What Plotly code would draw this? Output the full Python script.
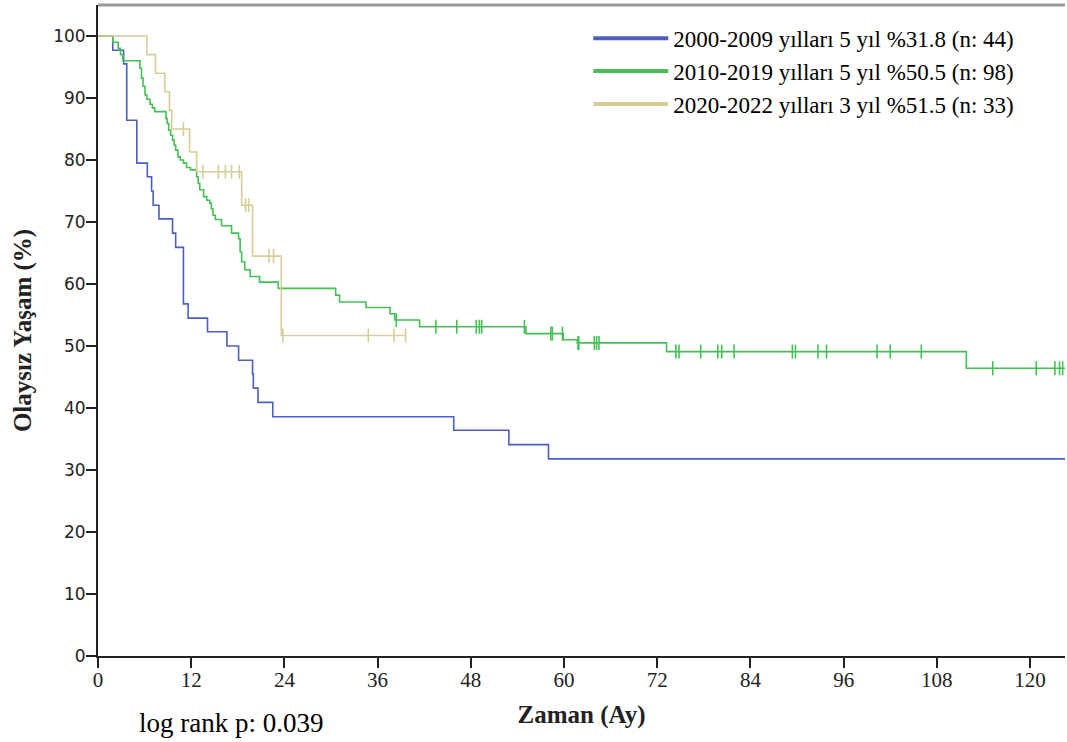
import plotly.graph_objects as go

# ---- Data (months, survival %) ----
blue_name = "2000-2009 yılları 5 yıl %31.8 (n: 44)"
blue_t = [1.9, 3.3, 3.7, 5.0, 6.35, 6.9, 7.1, 7.85, 9.6, 10.0, 11.0, 11.6, 14.1, 16.6,
          18.1, 19.9, 20.0, 20.6, 22.5, 45.8, 52.9, 58.0]
blue_s = [97.7, 95.5, 86.4, 79.5, 77.3, 75.0, 72.7, 70.5, 68.2, 65.9, 56.8, 54.5, 52.3, 50.0,
          47.7, 45.5, 43.2, 40.9, 38.6, 36.4, 34.1, 31.8]
blue_end = 124.5
blue_cens_t = []
blue_cens_s = []

green_name = "2010-2019 yılları 5 yıl %50.5 (n: 98)"
green_t = [1.9, 2.6, 2.9, 3.2, 5.4, 5.6, 5.8, 6.05, 6.3, 6.7, 7.0, 7.3,
           8.75, 8.9, 9.1, 9.35, 9.6, 9.8, 10.0, 10.3, 10.6, 11.0, 11.4, 11.9,
           12.7, 12.9, 13.1, 13.6, 14.0, 14.4, 14.6, 14.8, 15.1, 15.9, 17.2, 18.1,
           18.3, 18.5, 18.9, 19.6, 20.8, 23.2, 30.6, 31.1, 34.5, 37.6, 38.2, 41.4,
           55.1, 59.9, 61.7, 73.2, 111.8]
green_s = [99.0, 98.0, 97.0, 96.0, 94.8, 93.2, 91.9, 90.5, 89.8, 89.0, 88.4, 87.8,
           86.7, 85.9, 84.8, 84.0, 83.2, 82.4, 81.6, 80.5, 80.0, 79.5, 78.8, 78.4,
           77.3, 76.2, 75.2, 74.1, 73.5, 73.0, 72.1, 71.1, 70.4, 69.4, 68.2, 67.3,
           65.2, 63.6, 62.3, 61.2, 60.3, 59.3, 58.2, 57.1, 56.2, 55.2, 54.2, 53.1,
           52.0, 51.0, 50.5, 49.1, 46.4]
green_end = 124.5
green_cens_t = [38.4, 43.5, 46.2, 48.7, 49.1, 49.4, 54.9, 58.3, 58.5, 59.8, 61.8, 61.9,
                63.9, 64.2, 64.5, 74.4, 74.8, 77.6, 79.8, 80.3, 81.9, 89.4, 89.8, 92.7,
                93.8, 100.3, 102.0, 106.0, 115.2, 120.8, 123.2, 123.8, 124.2]
green_cens_s = [54.2, 53.1, 53.1, 53.1, 53.1, 53.1, 53.1, 52.0, 52.0, 52.0, 50.5, 50.5,
                50.5, 50.5, 50.5, 49.1, 49.1, 49.1, 49.1, 49.1, 49.1, 49.1, 49.1, 49.1,
                49.1, 49.1, 49.1, 49.1, 46.4, 46.4, 46.4, 46.4, 46.4]

yellow_name = "2020-2022 yılları 3 yıl %51.5 (n: 33)"
yellow_t = [6.3, 7.4, 8.6, 9.2, 9.5, 11.8, 12.7, 18.5, 19.9, 23.6]
yellow_s = [97.0, 94.0, 91.0, 88.0, 85.0, 81.3, 78.1, 72.7, 64.5, 51.7]
yellow_end = 39.6
yellow_cens_t = [11.0, 13.5, 15.5, 16.4, 17.2, 18.2, 19.0, 19.4, 22.0, 22.6, 23.8, 34.8, 38.1, 39.6]
yellow_cens_s = [85.0, 78.1, 78.1, 78.1, 78.1, 78.1, 72.7, 72.7, 64.5, 64.5, 51.7, 51.7, 51.7, 51.7]

x_ticks = [0, 12, 24, 36, 48, 60, 72, 84, 96, 108, 120]
y_ticks = [0, 10, 20, 30, 40, 50, 60, 70, 80, 90, 100]

series = [
    (blue_name, blue_t, blue_s, blue_end, blue_cens_t, blue_cens_s, "#4b5fc0"),
    (green_name, green_t, green_s, green_end, green_cens_t, green_cens_s, "#45c055"),
    (yellow_name, yellow_t, yellow_s, yellow_end, yellow_cens_t, yellow_cens_s, "#d5ce97"),
]

fig = go.Figure()
for name, t, s, end, ct, cs, col in series:
    xs = [0] + t + [end]
    ys = [100] + s + [s[-1]]
    fig.add_trace(go.Scatter(x=xs, y=ys, mode="lines", line=dict(color=col, width=1.6, shape="hv"),
                             showlegend=False, hoverinfo="skip"))
    if ct:
        fig.add_trace(go.Scatter(x=ct, y=cs, mode="markers",
                                 marker=dict(symbol="line-ns", size=10, line=dict(color=col, width=1.6)),
                                 showlegend=False, hoverinfo="skip"))
    # legend entry
    fig.add_trace(go.Scatter(x=[None], y=[None], mode="lines", name=name,
                             line=dict(color=col, width=4)))

fig.update_layout(
    width=1067, height=742,
    margin=dict(l=98, r=2, t=5, b=86),
    paper_bgcolor="white", plot_bgcolor="white",
    showlegend=True,
    legend=dict(x=0.507, y=0.982, xanchor="left", yanchor="top",
                font=dict(family="Liberation Serif", size=23, color="black"),
                itemwidth=75, bgcolor="rgba(0,0,0,0)", tracegroupgap=0),
    xaxis=dict(range=[0, 124.5], tickvals=x_ticks, ticks="outside", ticklen=10, tickwidth=1.5,
               tickcolor="#222", showline=True, linecolor="#222", linewidth=2, showgrid=False,
               zeroline=False, ticklabelstandoff=-6,
               tickfont=dict(family="Liberation Sans Narrow", size=21, color="#222"),
               title=dict(text="<b>Zaman (Ay)</b>", standoff=14,
                          font=dict(family="Liberation Serif", size=25, color="#222"))),
    yaxis=dict(range=[0, 105], tickvals=y_ticks, ticks="outside", ticklen=10, tickwidth=1.5,
               tickcolor="#222", showline=True, linecolor="#222", linewidth=2, showgrid=False,
               zeroline=False, ticklabelstandoff=-3,
               tickfont=dict(family="DejaVu Sans", size=17, color="#222"),
               title=dict(text="<b>Olaysız Yaşam (%)</b>", standoff=14,
                          font=dict(family="Liberation Sans Narrow", size=25, color="#222"))),
    shapes=[dict(type="line", xref="paper", yref="paper", x0=0, x1=1, y0=1, y1=1,
                 line=dict(color="#999", width=3))],
    annotations=[dict(text="log rank p: 0.039", xref="paper", yref="paper", x=(137 - 98) / 967,
                      y=-0.103, xanchor="left", yanchor="middle", showarrow=False,
                      font=dict(family="Liberation Serif", size=27, color="black"))],
)

fig.write_html("out.html", config={"displayModeBar": False},
               post_script="document.body.style.margin='0';")
